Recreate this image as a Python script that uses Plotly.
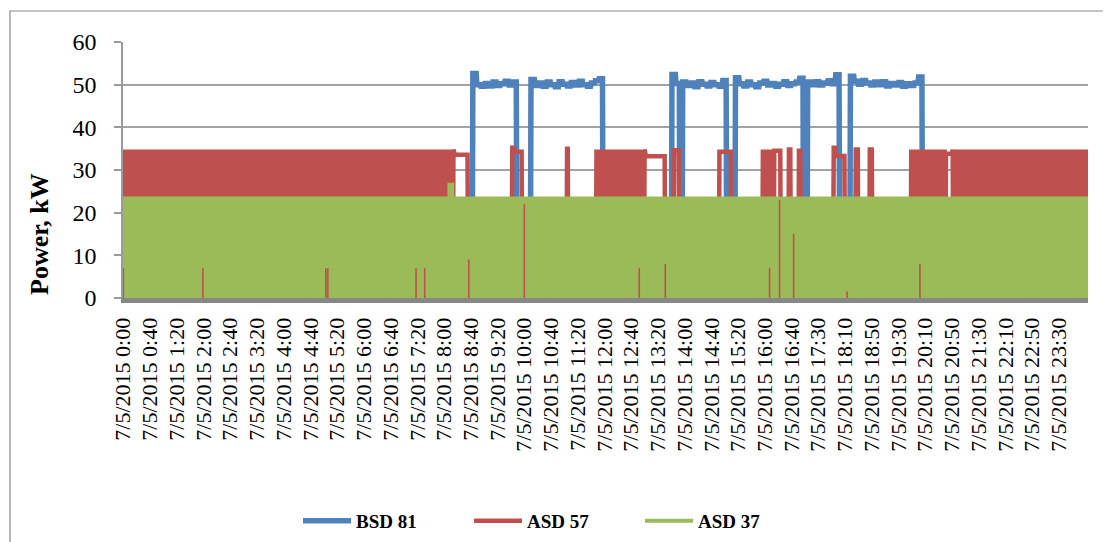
import plotly.graph_objects as go

# ---------------- data ----------------
N_POINTS = 1444  # category positions (about one per minute)

tick_idx = list(range(0, 1401, 40))
tick_times = ["0:00", "0:40", "1:20", "2:00", "2:40", "3:20", "4:00", "4:40", "5:20",
              "6:00", "6:40", "7:20", "8:00", "8:40", "9:20", "10:00", "10:40", "11:20",
              "12:00", "12:40", "13:20", "14:00", "14:40", "15:20", "16:00", "16:40",
              "17:30", "18:10", "18:50", "19:30", "20:10", "20:50", "21:30", "22:10",
              "22:50", "23:30"]
tick_labels = ["7/5/2015 " + t for t in tick_times]

# BSD 81 running periods: (first index, readings in kW, each held for 6 samples)
bsd81_runs = [
    (523, [52.6, 50.0, 49.6, 50.3, 49.7, 50.6, 49.8, 50.2, 50.8, 49.9, 50.6]),
    (610, [51.2, 49.8, 50.4, 49.6, 50.6, 50.0, 49.5, 50.7, 50.1, 49.7, 50.5, 49.9,
           50.8, 50.0, 49.6, 50.4, 50.9, 51.4]),
    (821, [52.4, 50.3]),
    (837, [50.6, 49.8, 50.4, 49.5, 50.7, 50.1, 49.7, 50.5, 50.0, 49.6, 51.0]),
    (916, [51.6, 50.2, 49.7, 50.6, 50.0, 49.5, 50.4, 50.8, 49.9, 50.3, 49.6, 50.1,
           50.7, 49.8, 50.2, 50.6, 51.5]),
    (1024, [50.6, 50.0, 50.7, 49.9, 50.4, 50.9, 50.2, 52.3]),
    (1088, [52.0, 50.8, 50.1, 51.0, 50.4, 49.9, 50.6, 50.0, 50.7, 49.7, 50.3, 49.9,
            50.5, 49.6, 50.2, 49.8, 50.4, 51.8]),
]
RUN_STEP = 6

# ASD 57 / ASD 37: (start index, end index, level kW, mode) ; "cycle" = switching on/off every sample
asd57_segments = [
    (0, 494, 34.8, "cycle"),
    (495, 515, 33.6, "flat"),
    (582, 584, 35.2, "flat"), (585, 596, 34.3, "flat"),
    (664, 665, 35.0, "flat"),
    (708, 780, 34.8, "cycle"),
    (781, 810, 33.2, "flat"),
    (824, 831, 34.6, "flat"),
    (892, 909, 34.3, "flat"),
    (957, 972, 34.8, "cycle"), (974, 983, 34.5, "flat"),
    (996, 998, 34.8, "flat"),
    (1011, 1013, 34.5, "flat"),
    (1063, 1065, 35.2, "flat"), (1066, 1079, 33.3, "flat"),
    (1096, 1099, 34.8, "flat"),
    (1117, 1120, 34.8, "flat"),
    (1179, 1230, 34.8, "cycle"),
    (1231, 1240, 33.8, "flat"),
    (1241, 1443, 34.8, "cycle"),
]

asd37_segments = [
    (0, 1443, 23.8, "cycle"),
    (488, 492, 27.0, "cycle"),
]

# short ASD 57 readings visible through gaps of the ASD 37 trace: (index, kW)
asd57_gap_idx = [0, 119, 303, 306, 438, 451, 517, 600, 772, 811, 967, 982, 1003, 1083, 1192]
asd57_gap_kw = [7, 7, 7, 7, 7, 7, 9, 22, 7, 8, 7, 23, 15, 1.5, 8]


def expand(segments, n):
    y = [0.0] * n
    for a, b, level, mode in segments:
        for i in range(a, b + 1):
            if mode == "cycle":
                y[i] = level if (i - a) % 2 == 0 else 0.0
            else:
                y[i] = level
    return y


def expand_runs(runs, n, step):
    y = [0.0] * n
    for start, readings in runs:
        for k, v in enumerate(readings):
            for i in range(start + k * step, start + (k + 1) * step):
                y[i] = v
    return y


x_idx = list(range(N_POINTS))
bsd81 = expand_runs(bsd81_runs, N_POINTS, RUN_STEP)
asd57 = expand(asd57_segments, N_POINTS)
asd37 = expand(asd37_segments, N_POINTS)

gap_x, gap_y = [], []
for i, v in zip(asd57_gap_idx, asd57_gap_kw):
    gap_x += [i, i, None]
    gap_y += [0, v, None]

# ---------------- style ----------------
BLUE, RED, GREEN = "#4F81BD", "#C0504D", "#9BBB59"
FONT = "Liberation Serif"
PAGE_OFF = 8                    # default body margin of the html page
W, H = 1111 - PAGE_OFF, 542 - PAGE_OFF
PLOT_L, PLOT_R, PLOT_T, PLOT_B = 123, 1088, 42, 298   # plot area in page pixels
ML = PLOT_L - PAGE_OFF
MT = PLOT_T - PAGE_OFF
MR = (W + PAGE_OFF) - PLOT_R
MB = (H + PAGE_OFF) - PLOT_B

fig = go.Figure()
fig.add_trace(go.Scatter(x=x_idx, y=bsd81, mode="lines", name="BSD 81",
                         line=dict(color=BLUE, width=5.5)))
fig.add_trace(go.Scatter(x=x_idx, y=asd57, mode="lines", name="ASD 57",
                         line=dict(color=RED, width=4.5)))
fig.add_trace(go.Scatter(x=x_idx, y=asd37, mode="lines", name="ASD 37",
                         line=dict(color=GREEN, width=4)))
fig.add_trace(go.Scatter(x=gap_x, y=gap_y, mode="lines", showlegend=False,
                         hoverinfo="skip", line=dict(color=RED, width=1.6)))

pw = PLOT_R - PLOT_L
ph = PLOT_B - PLOT_T


def px_x(p):
    return (p - PLOT_L) / pw


def px_y(p):
    return (PLOT_B - p) / ph


fig.update_layout(
    width=W, height=H,
    margin=dict(l=ML, r=MR, t=MT, b=MB, pad=0, autoexpand=False),
    paper_bgcolor="white", plot_bgcolor="white",
    font=dict(family=FONT, color="black"),
    showlegend=True,
    legend=dict(orientation="h", x=px_x(298), y=px_y(521), xanchor="left", yanchor="middle",
                font=dict(family=FONT, size=19, weight="bold", color="black"),
                entrywidth=108, entrywidthmode="pixels", itemwidth=48,
                bgcolor="rgba(0,0,0,0)"),
    xaxis=dict(range=[-0.5, N_POINTS - 0.5], tickmode="array", tickvals=tick_idx,
               ticktext=tick_labels, tickangle=-90, showgrid=False, zeroline=False,
               showline=True, linecolor="#878787", linewidth=5, ticks="",
               automargin=False,
               tickfont=dict(family=FONT, size=22, color="black"), ticklabelstandoff=6),
    yaxis=dict(range=[0, 60], tickvals=[0, 10, 20, 30, 40, 50, 60], showgrid=True,
               gridcolor="#A3A3A3", gridwidth=1.5, zeroline=False,
               showline=True, linecolor="#9A9A9A", linewidth=1.5,
               ticks="outside", ticklen=7, tickcolor="#9A9A9A", tickwidth=1.5,
               automargin=False,
               tickfont=dict(family=FONT, size=24, color="black"), ticklabelstandoff=13),
    annotations=[dict(text="<b>Power, kW</b>", textangle=-90, showarrow=False,
                      xref="paper", yref="paper", x=px_x(39), y=px_y(234),
                      xanchor="center", yanchor="middle",
                      font=dict(family=FONT, size=26, color="black"))],
    shapes=[dict(type="rect", xref="paper", yref="paper",
                 x0=px_x(10), x1=px_x(1125), y0=px_y(560), y1=px_y(11),
                 line=dict(color="#8A8A8A", width=1.2), fillcolor="rgba(0,0,0,0)",
                 layer="below")],
)

fig.write_html("out.html")
